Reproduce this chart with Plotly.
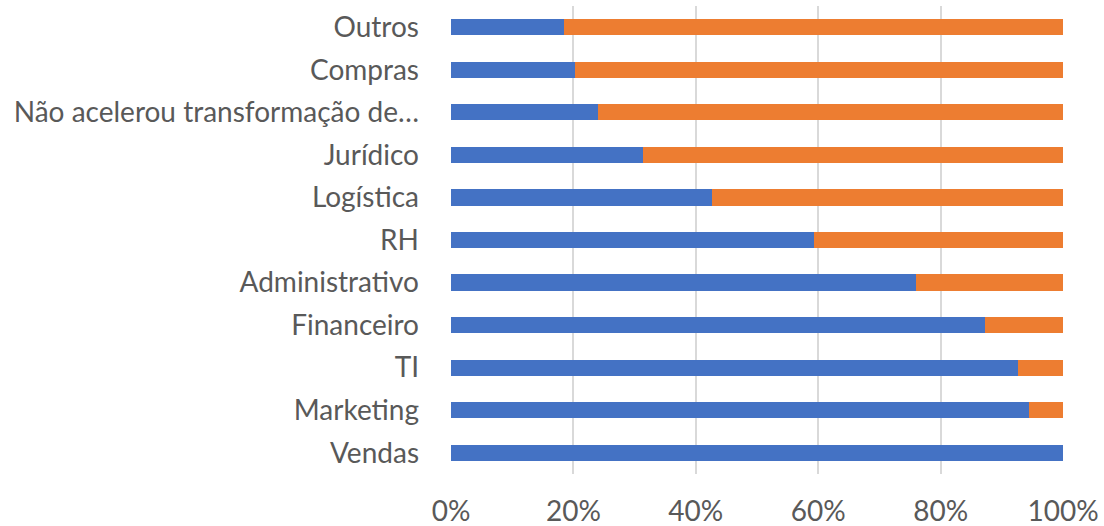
import plotly.graph_objects as go

categories = ["Vendas", "Marketing", "TI", "Financeiro", "Administrativo", "RH",
              "Logística", "Jurídico", "Não acelerou transformação de…", "Compras", "Outros"]
sim = [100.0, 94.5, 92.6, 87.2, 75.9, 59.3, 42.6, 31.4, 24.1, 20.3, 18.5]
nao = [100 - v for v in sim]

fig = go.Figure()
fig.add_trace(go.Bar(y=categories, x=sim, orientation="h", name="Sim",
                     marker=dict(color="#4472C4", line=dict(width=0))))
fig.add_trace(go.Bar(y=categories, x=nao, orientation="h", name="Não",
                     marker=dict(color="#ED7D31", line=dict(width=0))))

fig.update_layout(
    barmode="stack",
    bargap=0.62,
    width=1104, height=526,
    margin=dict(l=451, r=41, t=6, b=52, autoexpand=False),
    paper_bgcolor="white", plot_bgcolor="white",
    showlegend=False,
    font=dict(family="Lato", size=28, color="#595959"),
)
fig.update_xaxes(range=[0, 100], tickvals=[0, 20, 40, 60, 80, 100],
                 ticktext=["0%", "20%", "40%", "60%", "80%", "100%"],
                 showgrid=True, gridcolor="#d9d9d9", gridwidth=1.5,
                 zeroline=False, showline=False, ticks="", ticklabelstandoff=18,
                 automargin=False)
fig.update_yaxes(showgrid=False, zeroline=False, showline=False, ticks="",
                 ticklabelstandoff=31, range=[-0.5, 10.5], automargin=False)

fig.write_html("out.html", config={"displayModeBar": False},
               post_script="document.body.style.margin='0';document.body.style.padding='0';")
